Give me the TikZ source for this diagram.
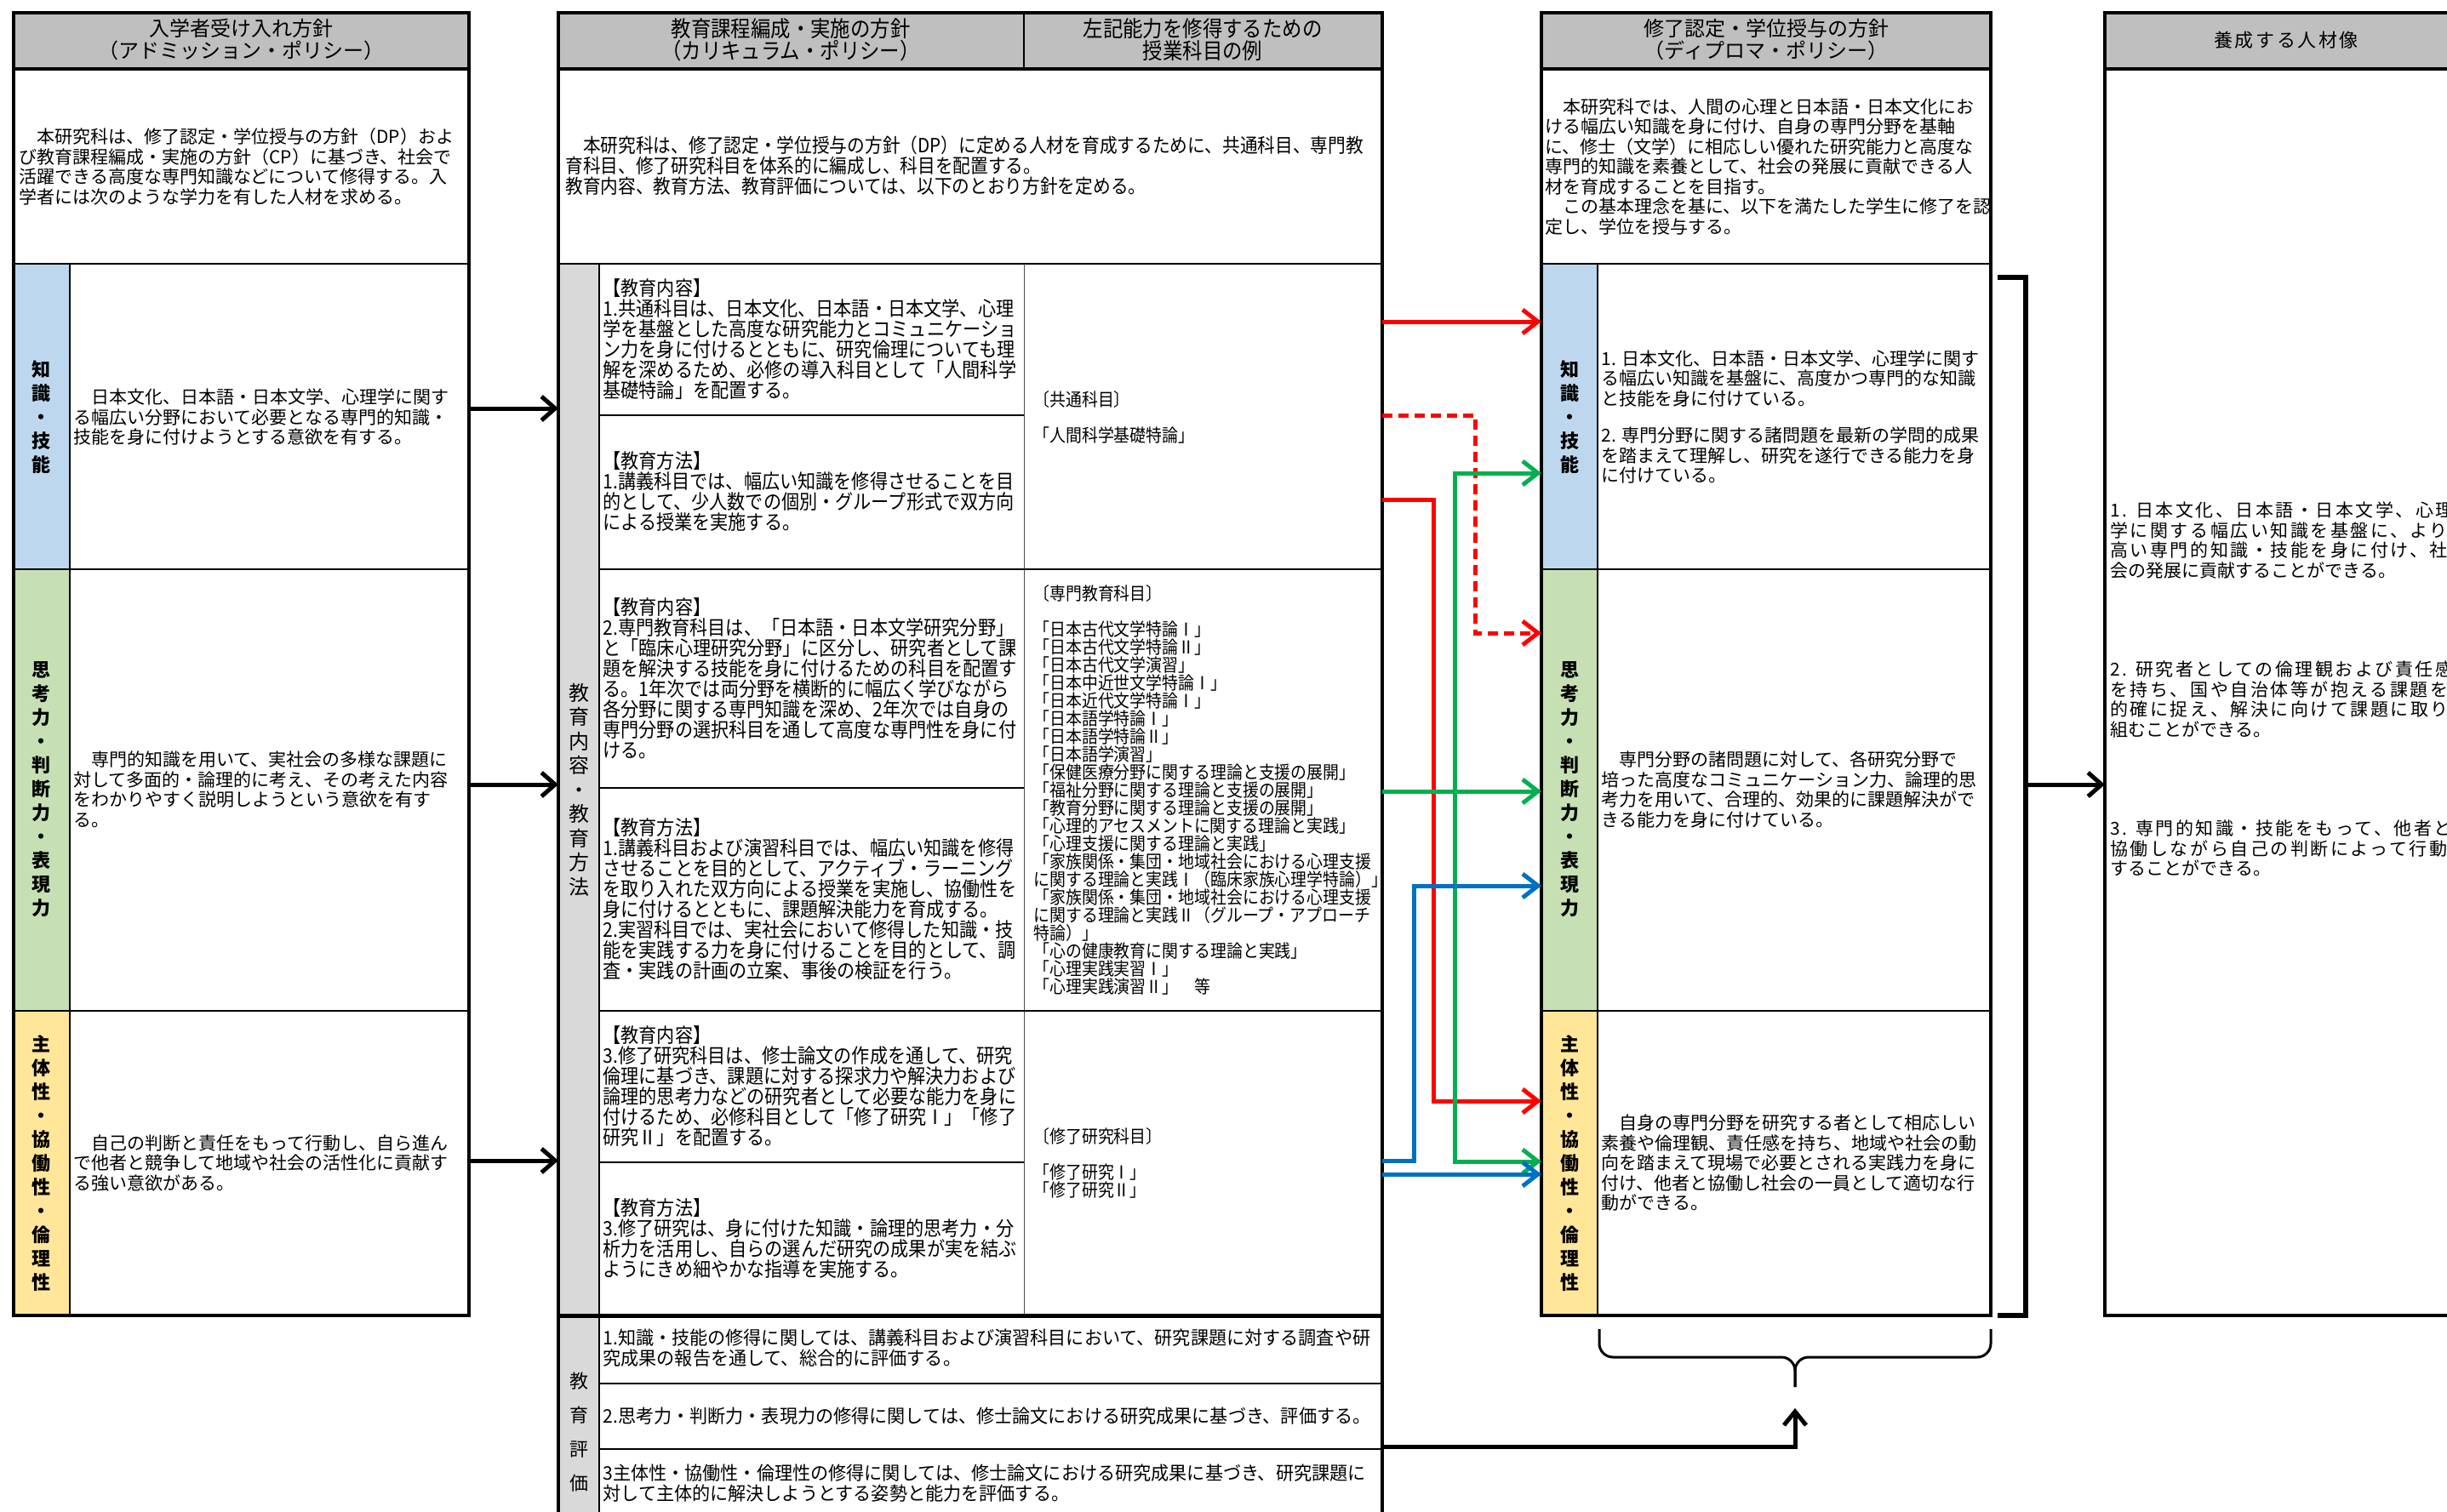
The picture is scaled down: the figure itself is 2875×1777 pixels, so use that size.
\documentclass[tikz,border=0pt]{standalone}
\usepackage{fontspec}
\setmainfont{Noto Sans CJK JP}
\newfontfamily\cond[FakeStretch=0.9]{Noto Sans CJK JP}
\newfontfamily\condb[FakeStretch=0.96]{Noto Sans CJK JP}
\usetikzlibrary{arrows.meta}
\definecolor{hdr}{RGB}{191,191,191}
\definecolor{lgray}{RGB}{217,217,217}
\definecolor{kblue}{RGB}{189,215,238}
\definecolor{kgreen}{RGB}{198,224,180}
\definecolor{kyellow}{RGB}{255,230,153}
\definecolor{ared}{RGB}{255,0,0}
\definecolor{agreen}{RGB}{0,176,80}
\definecolor{ablue}{RGB}{0,112,192}
\newcommand\wsp{\addfontfeature{LetterSpace=12}}
\begin{document}
\begin{tikzpicture}[x=0.5pt,y=-0.5pt,
 outer/.style={line width=2pt},
 sep/.style={line width=1.25pt},
 thinsep/.style={line width=0.8pt},
 hdrtxt/.style={align=center,inner sep=0pt,font=\fontsize{12pt}{13pt}\selectfont},
 hdrc/.style={align=center,inner sep=0pt,font=\cond\fontsize{13pt}{13pt}\selectfont},
 body/.style={anchor=west,align=left,inner sep=0pt,font=\fontsize{10.5pt}{11.75pt}\selectfont},
 mid/.style={anchor=west,align=left,inner sep=0pt,font=\cond\fontsize{11.75pt}{12pt}\selectfont},
 evl/.style={anchor=west,align=left,inner sep=0pt,font=\condb\fontsize{11pt}{12pt}\selectfont},
 lst/.style={anchor=west,align=left,inner sep=0pt,font=\cond\fontsize{10.5pt}{10.5pt}\selectfont},
 vlab/.style={align=center,inner sep=0pt,font=\bfseries\fontsize{11pt}{14pt}\selectfont},
 vmid/.style={align=center,inner sep=0pt,font=\fontsize{12pt}{14.25pt}\selectfont},
 barrow/.style={line width=2.5pt,-{Straight Barb[length=8pt,width=14pt]}},
 carrow/.style={line width=2.5pt,-{Straight Barb[length=9pt,width=14pt]}},
]
\useasboundingbox (0,0) rectangle (2875,1777);
\clip (0,0) rectangle (2875,1777);

% ---------- fills ----------
\fill[hdr] (16,15) rectangle (551,81);
\fill[kblue] (16,310) rectangle (82,669);
\fill[kgreen] (16,669) rectangle (82,1188);
\fill[kyellow] (16,1188) rectangle (82,1546);

\fill[hdr] (656,15) rectangle (1624,81);
\fill[lgray] (656,310) rectangle (704,1800);

\fill[hdr] (1811,15) rectangle (2339,81);
\fill[kblue] (1811,310) rectangle (1877,669);
\fill[kgreen] (1811,669) rectangle (1877,1188);
\fill[kyellow] (1811,1188) rectangle (1877,1546);

\fill[hdr] (2473,15) rectangle (2900,81);

% ---------- left table lines ----------
\draw[outer] (16,81) -- (551,81);
\draw[sep] (16,310) -- (551,310) (16,669) -- (551,669) (16,1188) -- (551,1188);
\draw[sep] (82,310) -- (82,1546);
\draw[outer] (16,15) rectangle (551,1546);

% ---------- middle table lines ----------
\draw[line width=0.6pt] (1203,15) -- (1203,81);
\draw[outer] (656,81) -- (1624,81);
\draw[sep] (656,310) -- (1624,310);
\draw[thinsep] (704,310) -- (704,1800);
\draw[line width=0.5pt,black!70] (1203,310) -- (1203,1546);
\draw[thinsep] (704,488) -- (1203,488) (704,926) -- (1203,926) (704,1366) -- (1203,1366);
\draw[sep] (704,669) -- (1624,669) (704,1188) -- (1624,1188);
\draw[outer] (656,15) rectangle (1624,1546);
\draw[line width=2.5pt] (656,1546) -- (1624,1546);
\draw[outer] (656,1546) -- (656,1800) (1624,1546) -- (1624,1800);
\draw[sep] (704,1626) -- (1624,1626) (704,1703) -- (1624,1703);

% ---------- DP table lines ----------
\draw[outer] (1811,81) -- (2339,81);
\draw[sep] (1811,310) -- (2339,310) (1811,669) -- (2339,669) (1811,1188) -- (2339,1188);
\draw[sep] (1877,310) -- (1877,1546);
\draw[outer] (1811,15) rectangle (2339,1546);

% ---------- right table lines ----------
\draw[outer] (2473,81) -- (2900,81);
\draw[outer] (2473,15) rectangle (2900,1546);

% ---------- headers ----------
\node[hdrtxt] (Lh) at (283,47) {入学者受け入れ方針\\（アドミッション・ポリシー）};
\node[hdrc] (Mh1) at (929,47) {教育課程編成・実施の方針\\（カリキュラム・ポリシー）};
\node[hdrc] (Mh2) at (1413,47) {左記能力を修得するための\\授業科目の例};
\node[hdrtxt] (Dh) at (2075,47) {修了認定・学位授与の方針\\（ディプロマ・ポリシー）};
\node[hdrtxt,font=\wsp\fontsize{11pt}{13pt}\selectfont] (Rh) at (2686,47) {養成する人材像};

% ---------- left texts ----------
\node[body] (Li) at (22,196) {　本研究科は、修了認定・学位授与の方針（DP）およ\\び教育課程編成・実施の方針（CP）に基づき、社会で\\活躍できる高度な専門知識などについて修得する。入\\学者には次のような学力を有した人材を求める。};
\node[vlab] (Lv1) at (49,490) {知\\識\\・\\技\\能};
\node[vlab] (Lv2) at (49,928) {思\\考\\力\\・\\判\\断\\力\\・\\表\\現\\力};
\node[vlab] (Lv3) at (49,1367) {主\\体\\性\\・\\協\\働\\性\\・\\倫\\理\\性};
\node[body] (L1) at (86,490) {　日本文化、日本語・日本文学、心理学に関す\\る幅広い分野において必要となる専門的知識・\\技能を身に付けようとする意欲を有する。};
\node[body] (L2) at (86,928) {　専門的知識を用いて、実社会の多様な課題に\\対して多面的・論理的に考え、その考えた内容\\をわかりやすく説明しようという意欲を有す\\る。};
\node[body] (L3) at (86,1367) {　自己の判断と責任をもって行動し、自ら進ん\\で他者と競争して地域や社会の活性化に貢献す\\る強い意欲がある。};

% ---------- middle texts ----------
\node[mid,font=\cond\fontsize{11.5pt}{12pt}\selectfont] (Mi) at (664,195) {　本研究科は、修了認定・学位授与の方針（DP）に定める人材を育成するために、共通科目、専門教\\育科目、修了研究科目を体系的に編成し、科目を配置する。\\教育内容、教育方法、教育評価については、以下のとおり方針を定める。};
\node[vmid] (Mv) at (680,928) {教\\育\\内\\容\\・\\教\\育\\方\\法};
\node[mid] (M1a) at (708,399) {【教育内容】\\1.共通科目は、日本文化、日本語・日本文学、心理\\学を基盤とした高度な研究能力とコミュニケーショ\\ン力を身に付けるとともに、研究倫理についても理\\解を深めるため、必修の導入科目として「人間科学\\基礎特論」を配置する。};
\node[mid] (M1b) at (708,578) {【教育方法】\\1.講義科目では、幅広い知識を修得させることを目\\的として、少人数での個別・グループ形式で双方向\\による授業を実施する。};
\node[mid] (M2a) at (708,797) {【教育内容】\\2.専門教育科目は、「日本語・日本文学研究分野」\\と「臨床心理研究分野」に区分し、研究者として課\\題を解決する技能を身に付けるための科目を配置す\\る。1年次では両分野を横断的に幅広く学びながら\\各分野に関する専門知識を深め、2年次では自身の\\専門分野の選択科目を通して高度な専門性を身に付\\ける。};
\node[mid] (M2b) at (708,1057) {【教育方法】\\1.講義科目および演習科目では、幅広い知識を修得\\させることを目的として、アクティブ・ラーニング\\を取り入れた双方向による授業を実施し、協働性を\\身に付けるとともに、課題解決能力を育成する。\\2.実習科目では、実社会において修得した知識・技\\能を実践する力を身に付けることを目的として、調\\査・実践の計画の立案、事後の検証を行う。};
\node[mid] (M3a) at (708,1277) {【教育内容】\\3.修了研究科目は、修士論文の作成を通して、研究\\倫理に基づき、課題に対する探求力や解決力および\\論理的思考力などの研究者として必要な能力を身に\\付けるため、必修科目として「修了研究Ⅰ」「修了\\研究Ⅱ」を配置する。};
\node[mid] (M3b) at (708,1456) {【教育方法】\\3.修了研究は、身に付けた知識・論理的思考力・分\\析力を活用し、自らの選んだ研究の成果が実を結ぶ\\ようにきめ細やかな指導を実施する。};

\node[lst] (S1) at (1214,490) {〔共通科目〕\\[10.5pt]「人間科学基礎特論」};
\node[lst] (S2) at (1214,928) {〔専門教育科目〕\\[10.5pt]「日本古代文学特論Ⅰ」\\「日本古代文学特論Ⅱ」\\「日本古代文学演習」\\「日本中近世文学特論Ⅰ」\\「日本近代文学特論Ⅰ」\\「日本語学特論Ⅰ」\\「日本語学特論Ⅱ」\\「日本語学演習」\\「保健医療分野に関する理論と支援の展開」\\「福祉分野に関する理論と支援の展開」\\「教育分野に関する理論と支援の展開」\\「心理的アセスメントに関する理論と実践」\\「心理支援に関する理論と実践」\\「家族関係・集団・地域社会における心理支援\\に関する理論と実践Ⅰ（臨床家族心理学特論）」\\「家族関係・集団・地域社会における心理支援\\に関する理論と実践Ⅱ（グループ・アプローチ\\特論）」\\「心の健康教育に関する理論と実践」\\「心理実践実習Ⅰ」\\「心理実践演習Ⅱ」　等};
\node[lst] (S3) at (1214,1367) {〔修了研究科目〕\\[10.5pt]「修了研究Ⅰ」\\「修了研究Ⅱ」};

\node[vmid,font=\fontsize{11pt}{20pt}\selectfont] (Ev) at (680,1683) {教\\育\\評\\価};
\node[evl] (E1) at (708,1584) {1.知識・技能の修得に関しては、講義科目および演習科目において、研究課題に対する調査や研\\究成果の報告を通して、総合的に評価する。};
\node[evl] (E2) at (708,1664) {2.思考力・判断力・表現力の修得に関しては、修士論文における研究成果に基づき、評価する。};
\node[evl] (E3) at (708,1743) {3主体性・協働性・倫理性の修得に関しては、修士論文における研究成果に基づき、研究課題に\\対して主体的に解決しようとする姿勢と能力を評価する。};

% ---------- DP texts ----------
\node[body] (Di) at (1815,196) {　本研究科では、人間の心理と日本語・日本文化にお\\ける幅広い知識を身に付け、自身の専門分野を基軸\\に、修士（文学）に相応しい優れた研究能力と高度な\\専門的知識を素養として、社会の発展に貢献できる人\\材を育成することを目指す。\\　この基本理念を基に、以下を満たした学生に修了を認\\定し、学位を授与する。};
\node[vlab] (Dv1) at (1844,490) {知\\識\\・\\技\\能};
\node[vlab] (Dv2) at (1844,928) {思\\考\\力\\・\\判\\断\\力\\・\\表\\現\\力};
\node[vlab] (Dv3) at (1844,1367) {主\\体\\性\\・\\協\\働\\性\\・\\倫\\理\\性};
\node[body] (D1) at (1881,490) {1. 日本文化、日本語・日本文学、心理学に関す\\る幅広い知識を基盤に、高度かつ専門的な知識\\と技能を身に付けている。\\[10pt]2. 専門分野に関する諸問題を最新の学問的成果\\を踏まえて理解し、研究を遂行できる能力を身\\に付けている。};
\node[body] (D2) at (1881,928) {　専門分野の諸問題に対して、各研究分野で\\培った高度なコミュニケーション力、論理的思\\考力を用いて、合理的、効果的に課題解決がで\\きる能力を身に付けている。};
\node[body] (D3) at (1881,1367) {　自身の専門分野を研究する者として相応しい\\素養や倫理観、責任感を持ち、地域や社会の動\\向を踏まえて現場で必要とされる実践力を身に\\付け、他者と協働し社会の一員として適切な行\\動ができる。};

% ---------- right texts ----------
\node[body] (Rt) at (2479,810) {{\wsp 1. 日本文化、日本語・日本文学、心理}\\{\wsp 学に関する幅広い知識を基盤に、より}\\{\wsp 高い専門的知識・技能を身に付け、社}\\会の発展に貢献することができる。\\[46.5pt]{\wsp 2. 研究者としての倫理観および責任感}\\{\wsp を持ち、国や自治体等が抱える課題を}\\{\wsp 的確に捉え、解決に向けて課題に取り}\\組むことができる。\\[46.5pt]{\wsp 3. 専門的知識・技能をもって、他者と}\\{\wsp 協働しながら自己の判断によって行動}\\することができる。};

% ---------- black arrows left -> middle ----------
\coordinate (a1s) at (551,480); \coordinate (a1e) at (656,480);
\coordinate (a2s) at (551,922); \coordinate (a2e) at (656,922);
\coordinate (a3s) at (551,1364); \coordinate (a3e) at (656,1364);
\draw[barrow] (a1s) -- (a1e);
\draw[barrow] (a2s) -- (a2e);
\draw[barrow] (a3s) -- (a3e);

% ---------- coloured arrows middle -> DP ----------
\coordinate (r1s) at (1624,378); \coordinate (r1e) at (1811,378);
\coordinate (r2s) at (1624,488); \coordinate (r2e) at (1811,744);
\coordinate (r3s) at (1624,587); \coordinate (r3e) at (1811,1294);
\coordinate (g1s) at (1624,930); \coordinate (g1e) at (1811,930);
\coordinate (gj) at (1709,930);
\coordinate (g2e) at (1811,556); \coordinate (g3e) at (1811,1365);
\coordinate (b1s) at (1624,1364); \coordinate (b1e) at (1811,1041);
\coordinate (b2s) at (1624,1380); \coordinate (b2e) at (1811,1380);

\draw[carrow,ared] (r1s) -- (r1e);
\draw[carrow,ared,dash pattern=on 6pt off 3.5pt] (r2s) -- ++(109,0) |- (r2e);
\draw[carrow,ared] (r3s) -- ++(60,0) |- (r3e);
\draw[carrow,agreen] (g1s) -- (g1e);
\draw[carrow,agreen] (gj) |- (g2e);
\draw[carrow,agreen] (gj) |- (g3e);
\draw[carrow,ablue] (b1s) -- ++(37,0) |- (b1e);
\draw[carrow,ablue] (b2s) -- (b2e);

% ---------- bracket and arrow to right table ----------
\coordinate (bt) at (2347,326); \coordinate (bb) at (2347,1546);
\coordinate (brk) at (2380,922); \coordinate (Rin) at (2473,922);
\draw[line width=2.75pt] (bt) -- (2380,326) -- (2380,1546) -- (bb);
\draw[barrow] (brk) -- (Rin);

% ---------- brace under DP and evaluation arrow ----------
\coordinate (brL) at (1879,1562); \coordinate (brR) at (2339,1562);
\coordinate (brT) at (2109,1630);
\draw[line width=1.5pt,rounded corners=8pt] (brL) -- (1879,1595) -- (2109,1595) -- (brT);
\draw[line width=1.5pt,rounded corners=8pt] (brR) -- (2339,1595) -- (2109,1595) -- (brT);
\coordinate (evs) at (1624,1700); \coordinate (eve) at (2109,1655);
\draw[line width=2.5pt,-{Straight Barb[length=8pt,width=13pt]}] (evs) -| (eve);
\end{tikzpicture}
\end{document}
